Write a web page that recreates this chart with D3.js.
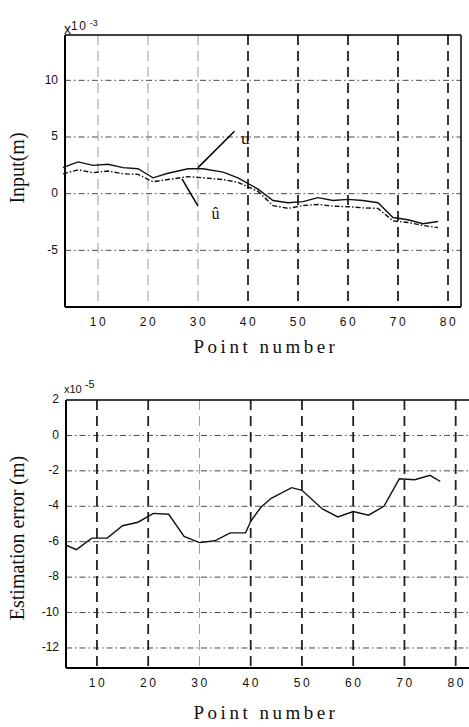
<!DOCTYPE html>
<html>
<head>
<meta charset="utf-8">
<script src="https://cdn.jsdelivr.net/npm/d3@7"></script>
<style>
  body { margin: 0; background: #fff; }
  .tick-lbl { font-family: "Liberation Sans", Arial, sans-serif; font-size: 12px; fill: #111; }
  .title { font-family: "Liberation Serif", "Times New Roman", serif; fill: #111; }
</style>
</head>
<body>
<script>
// top chart: input u and estimate u-hat (x10^-3 m)
var topPoints = [3, 6, 9, 12, 15, 18, 21, 24, 28, 31, 35, 38, 42, 45, 48, 51, 54, 57, 60, 63, 66, 69, 72, 75, 78];
var uValues   = [2.3, 2.8, 2.5, 2.6, 2.3, 2.2, 1.4, 1.8, 2.2, 2.2, 1.9, 1.4, 0.4, -0.6, -0.8, -0.7, -0.35, -0.6, -0.5, -0.6, -0.8, -2.1, -2.3, -2.65, -2.45];
var uHat      = [1.75, 2.1, 1.85, 2.0, 1.75, 1.7, 1.05, 1.25, 1.5, 1.4, 1.25, 1.0, 0.2, -1.05, -1.3, -1.05, -0.95, -1.1, -1.15, -1.25, -1.3, -2.4, -2.55, -2.8, -3.0];
var topYTicks = [-5, 0, 5, 10];

// bottom chart: estimation error (x10^-5 m)
var botPoints = [4, 6, 9, 12, 15, 18, 21, 24, 27, 30, 33, 36, 39, 40, 42, 44, 48, 50, 54, 57, 60, 63, 66, 69, 72, 75, 77];
var errValues = [-6.2, -6.45, -5.8, -5.8, -5.1, -4.9, -4.4, -4.45, -5.7, -6.05, -5.95, -5.5, -5.5, -4.85, -4.05, -3.55, -2.95, -3.1, -4.15, -4.6, -4.3, -4.5, -4.0, -2.45, -2.5, -2.25, -2.6];
var botYTicks = [-12, -10, -8, -6, -4, -2, 0, 2];

var xTicks = [10, 20, 30, 40, 50, 60, 70, 80];

var svg = d3.select("body").append("svg")
  .attr("width", 469)
  .attr("height", 727);

svg.append("rect").attr("width", 469).attr("height", 727).attr("fill", "#fff");

// scales
var x1 = d3.scaleLinear().domain([3.4, 82.6]).range([65, 461]);
var y1 = d3.scaleLinear().domain([-10, 14]).range([307, 35]);
var x2 = d3.scaleLinear().domain([3.96, 82.6]).range([66, 469]);
var y2 = d3.scaleLinear().domain([-13.13, 2]).range([668, 400]);

function drawFrame(g, x, y, yTicks, lightX, showRight) {
  var x0 = x.range()[0], xr = x.range()[1];
  var yb = y.range()[0], yt = y.range()[1];

  // horizontal dash-dot grid
  g.selectAll("line.hgrid")
    .data(yTicks.filter(d => y(d) > yt + 2))
    .enter().append("line")
      .attr("class", "hgrid")
      .attr("x1", x0).attr("x2", xr)
      .attr("y1", d => y(d)).attr("y2", d => y(d))
      .attr("stroke", "#333")
      .attr("stroke-width", 0.9)
      .attr("stroke-dasharray", "6,3,1.5,3");

  // vertical dashed grid
  g.selectAll("line.vgrid")
    .data(xTicks)
    .enter().append("line")
      .attr("class", "vgrid")
      .attr("x1", d => x(d)).attr("x2", d => x(d))
      .attr("y1", yt).attr("y2", yb)
      .attr("stroke", d => lightX.indexOf(d) >= 0 ? "#999" : "#222")
      .attr("stroke-width", d => lightX.indexOf(d) >= 0 ? 1 : 1.8)
      .attr("stroke-dasharray", "10,6");

  // axes box
  g.append("line").attr("x1", x0).attr("x2", xr).attr("y1", yt).attr("y2", yt)
    .attr("stroke", "#000").attr("stroke-width", 1.5);
  g.append("line").attr("x1", x0).attr("x2", xr).attr("y1", yb).attr("y2", yb)
    .attr("stroke", "#000").attr("stroke-width", 2);
  g.append("line").attr("x1", x0).attr("x2", x0).attr("y1", yt).attr("y2", yb)
    .attr("stroke", "#000").attr("stroke-width", 2);
  if (showRight) {
    g.append("line").attr("x1", xr).attr("x2", xr).attr("y1", yt).attr("y2", yb)
      .attr("stroke", "#000").attr("stroke-width", 1.5);
  }

  // y tick labels
  g.selectAll("text.ylbl")
    .data(yTicks)
    .enter().append("text")
      .attr("class", "tick-lbl")
      .attr("x", x0 - 7)
      .attr("y", d => y(d))
      .attr("text-anchor", "end")
      .attr("dominant-baseline", "middle")
      .text(d => d);

  // x tick labels
  g.selectAll("text.xlbl")
    .data(xTicks)
    .enter().append("text")
      .attr("class", "tick-lbl")
      .attr("x", d => x(d) + 1)
      .attr("y", yb + 19)
      .attr("text-anchor", "middle")
      .attr("letter-spacing", "2.5px")
      .text(d => d);
}

var gTop = svg.append("g");
drawFrame(gTop, x1, y1, topYTicks, [10, 20, 30], true);

var gBot = svg.append("g");
drawFrame(gBot, x2, y2, botYTicks, [30], false);

// lines
var lineTop = d3.line().x((d, i) => x1(topPoints[i])).y(d => y1(d));
gTop.append("path").datum(uValues)
  .attr("d", lineTop)
  .attr("fill", "none").attr("stroke", "#111").attr("stroke-width", 1.4);
gTop.append("path").datum(uHat)
  .attr("d", lineTop)
  .attr("fill", "none").attr("stroke", "#111").attr("stroke-width", 1.4)
  .attr("stroke-dasharray", "5,2,1.5,2");

var lineBot = d3.line().x((d, i) => x2(botPoints[i])).y(d => y2(d));
gBot.append("path").datum(errValues)
  .attr("d", lineBot)
  .attr("fill", "none").attr("stroke", "#111").attr("stroke-width", 1.4);

// annotations for u and u-hat
gTop.append("line")
  .attr("x1", x1(30)).attr("y1", y1(2.3))
  .attr("x2", x1(37.3)).attr("y2", y1(5.5))
  .attr("stroke", "#000").attr("stroke-width", 1.5);
gTop.append("text").attr("class", "title")
  .attr("x", x1(38.6)).attr("y", y1(4.4))
  .style("font-size", "17px")
  .text("u");
gTop.append("line")
  .attr("x1", x1(26.8)).attr("y1", y1(1.3))
  .attr("x2", x1(30)).attr("y2", y1(-1.1))
  .attr("stroke", "#000").attr("stroke-width", 1.5);
gTop.append("text").attr("class", "title")
  .attr("x", x1(32.7)).attr("y", y1(-2.2))
  .style("font-size", "16px")
  .text("û");

// exponent labels
var e1 = gTop.append("text").attr("class", "tick-lbl").attr("x", 64).attr("y", 34);
e1.append("tspan").style("font-size", "14px").text("x");
e1.append("tspan").attr("dy", -4).attr("letter-spacing", "1.5px").text("10");
e1.append("tspan").attr("dy", -4).style("font-size", "9px").text(" -3");

var e2 = gBot.append("text").attr("class", "tick-lbl").attr("x", 64).attr("y", 393);
e2.append("tspan").style("font-size", "11px").text("x10");
e2.append("tspan").attr("dy", -5).style("font-size", "11px").text(" -5");

// axis titles
svg.append("text").attr("class", "title")
  .attr("x", 266).attr("y", 353)
  .style("font-size", "19px")
  .attr("text-anchor", "middle")
  .attr("letter-spacing", "3.5px")
  .text("Point number");
svg.append("text").attr("class", "title")
  .attr("x", 266).attr("y", 719)
  .style("font-size", "19px")
  .attr("text-anchor", "middle")
  .attr("letter-spacing", "3.5px")
  .text("Point number");

svg.append("text").attr("class", "title")
  .attr("transform", "translate(24,168) rotate(-90)")
  .style("font-size", "20px")
  .attr("text-anchor", "middle")
  .text("Input(m)");
svg.append("text").attr("class", "title")
  .attr("transform", "translate(24,538) rotate(-90)")
  .style("font-size", "20px")
  .attr("text-anchor", "middle")
  .text("Estimation error (m)");
</script>
</body>
</html>
